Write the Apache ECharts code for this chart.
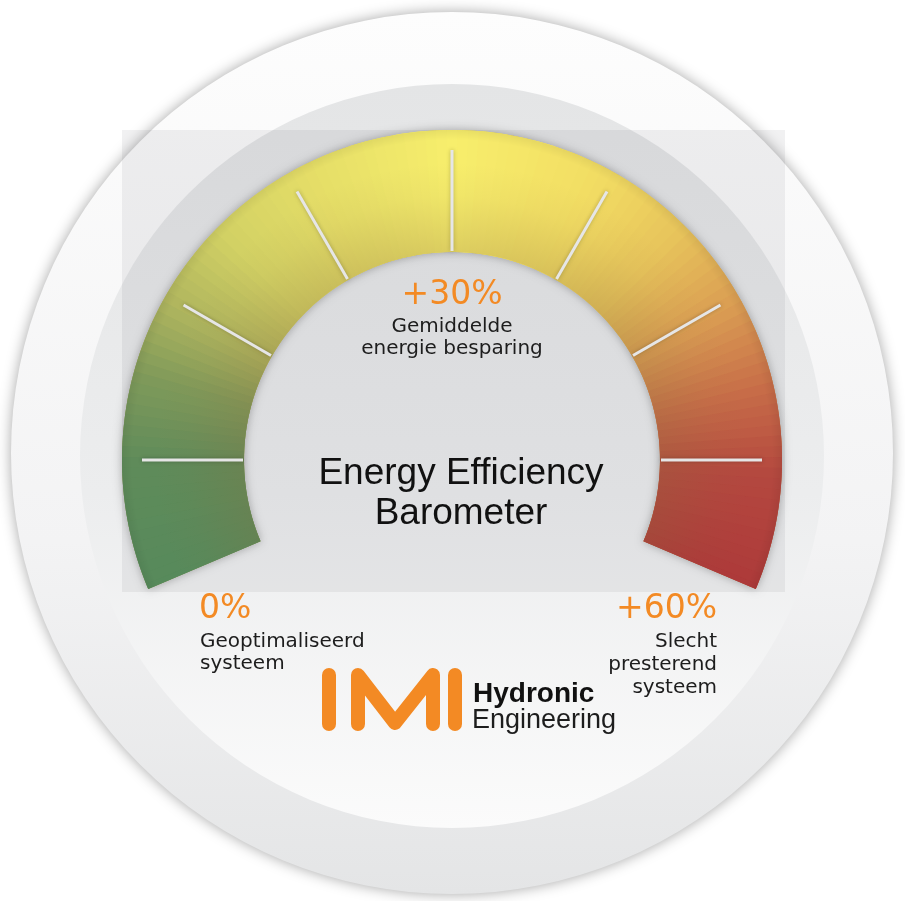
<!DOCTYPE html>
<html>
<head>
<meta charset="utf-8">
<script src="https://cdn.jsdelivr.net/npm/echarts@6/dist/echarts.min.js"></script>
<style>
  html, body { margin: 0; padding: 0; background: #ffffff; }
  #chart { width: 905px; height: 901px; }
</style>
</head>
<body>
<div id="chart"></div>
<script>
// scale of the barometer
const scaleMin = 0;
const scaleMax = 60;
const tickStep = 10;
const scaleLabels = ["0%", "+30%", "+60%"];
const scaleNotes = [
  ["Geoptimaliseerd", "systeem"],
  ["Gemiddelde", "energie besparing"],
  ["Slecht", "presterend", "systeem"],
];
const titleLines = ["Energy Efficiency", "Barometer"];
const brandWords = ["Hydronic", "Engineering"];

// colour along the band, from the green end to the red end
const bandStops = [
  [0.0, "#578a5b"],
  [0.1, "#5f8b5a"],
  [0.17, "#809a5a"],
  [0.23, "#afb55e"],
  [0.3, "#d2d164"],
  [0.38, "#e4dd67"],
  [0.5, "#f7ee6c"],
  [0.62, "#f2dd63"],
  [0.7, "#e7c35b"],
  [0.77, "#da9d53"],
  [0.84, "#c76d48"],
  [0.91, "#b4483f"],
  [1.0, "#ad3a3a"],
];

const orange = "#f38a24";
const cx = 452, cy = 460;

function hex(c) {
  return [1, 3, 5].map((i) => parseInt(c.slice(i, i + 2), 16));
}
function colorAt(f) {
  f = Math.max(0, Math.min(1, f));
  for (let i = 1; i < bandStops.length; i++) {
    const [f1, c1] = bandStops[i];
    const [f0, c0] = bandStops[i - 1];
    if (f <= f1) {
      const t = (f - f0) / (f1 - f0);
      const a = hex(c0), b = hex(c1);
      return `rgb(${a.map((v, k) => Math.round(v + (b[k] - v) * t)).join(",")})`;
    }
  }
  return bandStops[bandStops.length - 1][1];
}

// two layers of thin segments, the second shifted half a step so the seams vanish
const segCount = 120;
const segsA = [];
const segsB = [];
for (let i = 1; i <= segCount; i++) {
  segsA.push([i / segCount, colorAt((i - 0.5) / segCount)]);
  segsB.push([(i - 0.5) / segCount, colorAt((i - 1) / segCount)]);
}
segsB.push([1, colorAt(1)]);

const hidden = {
  splitLine: { show: false },
  axisTick: { show: false },
  axisLabel: { show: false },
  pointer: { show: false },
  anchor: { show: false },
  title: { show: false },
  detail: { show: false },
};

const band = (extra) =>
  Object.assign(
    {
      type: "gauge",
      center: [cx, cy],
      radius: 330,
      startAngle: 203,
      endAngle: -23,
      min: scaleMin,
      max: scaleMax,
      silent: true,
      data: [],
    },
    hidden,
    extra,
  );

const txt = (x, y, text, font, fill, align, z = 20) => ({
  type: "text",
  x,
  y,
  z,
  silent: true,
  style: { text, font, fill, align, verticalAlign: "middle" },
});

const noteFont = '20px "DejaVu Sans"';
const pctFont = '33px "DejaVu Sans"';
const ink = "#1d1d1d";

const graphics = [
  {
    type: "circle",
    z: -30,
    silent: true,
    shape: { cx: 452, cy: 453, r: 441 },
    style: {
      fill: new echarts.graphic.LinearGradient(0, 0, 0, 1, [
        { offset: 0, color: "#fdfdfd" },
        { offset: 0.6, color: "#f3f3f4" },
        { offset: 1, color: "#e4e5e6" },
      ]),
      shadowBlur: 14,
      shadowColor: "rgba(0,0,0,0.35)",
    },
  },
  {
    type: "circle",
    z: -29,
    silent: true,
    shape: { cx: 452, cy: 456, r: 372 },
    style: {
      fill: new echarts.graphic.LinearGradient(0, 0, 0, 1, [
        { offset: 0, color: "#e4e5e6" },
        { offset: 0.55, color: "#ecedee" },
        { offset: 1, color: "#fbfbfb" },
      ]),
    },
  },
  {
    type: "rect",
    z: -28,
    silent: true,
    shape: { x: 122, y: 130, width: 663, height: 462 },
    style: { fill: "rgba(60,62,66,0.07)" },
  },
  // labels at the ends and the top of the scale
  txt(452, 295, scaleLabels[1], pctFont, orange, "center"),
  txt(452, 327, scaleNotes[1][0], noteFont, ink, "center"),
  txt(452, 349, scaleNotes[1][1], noteFont, ink, "center"),
  txt(199, 609, scaleLabels[0], pctFont, orange, "left"),
  txt(200, 642, scaleNotes[0][0], noteFont, ink, "left"),
  txt(200, 664, scaleNotes[0][1], noteFont, ink, "left"),
  txt(717, 609, scaleLabels[2], pctFont, orange, "right"),
  txt(717, 642, scaleNotes[2][0], noteFont, ink, "right"),
  txt(717, 665, scaleNotes[2][1], noteFont, ink, "right"),
  txt(717, 688, scaleNotes[2][2], noteFont, ink, "right"),
  txt(461, 474, titleLines[0], '37px "Liberation Sans"', "#111111", "center"),
  txt(461, 514, titleLines[1], '37px "Liberation Sans"', "#111111", "center"),
  // IMI logo
  {
    type: "polyline",
    z: 20,
    silent: true,
    shape: { points: [[329, 675], [329, 724]] },
    style: { stroke: orange, lineWidth: 14, lineCap: "round", fill: null },
  },
  {
    type: "polyline",
    z: 20,
    silent: true,
    shape: { points: [[358, 724], [358, 675], [395, 723], [433, 675], [433, 724]] },
    style: { stroke: orange, lineWidth: 14, lineCap: "round", lineJoin: "round", fill: null },
  },
  {
    type: "polyline",
    z: 20,
    silent: true,
    shape: { points: [[455, 675], [455, 724]] },
    style: { stroke: orange, lineWidth: 14, lineCap: "round", fill: null },
  },
  txt(473, 694, brandWords[0], 'bold 28px "Liberation Sans"', "#111111", "left"),
  txt(472, 721, brandWords[1], '27px "Liberation Sans"', ink, "left"),
];

const chart = echarts.init(document.getElementById("chart"), null, { renderer: "canvas" });

chart.setOption({
  animation: false,
  backgroundColor: "#ffffff",
  graphic: graphics,
  series: [
    // solid base that carries the drop shadow
    band({
      axisLine: {
        lineStyle: { width: 122, color: [[1, "#c8b060"]], shadowBlur: 10, shadowColor: "rgba(0,0,0,0.3)" },
      },
    }),
    band({ axisLine: { lineStyle: { width: 122, color: segsA } } }),
    band({ axisLine: { lineStyle: { width: 122, color: segsB } } }),
    // shading towards the inner edge
    band({
      axisLine: {
        lineStyle: {
          width: 122,
          color: [
            [
              1,
              new echarts.graphic.RadialGradient(
                cx,
                cy,
                330,
                [
                  { offset: 0.6, color: "rgba(140,110,60,0.3)" },
                  { offset: 0.64, color: "rgba(140,110,60,0.24)" },
                  { offset: 0.8, color: "rgba(140,110,60,0.06)" },
                  { offset: 0.9, color: "rgba(140,110,60,0)" },
                  { offset: 0.97, color: "rgba(0,0,0,0)" },
                  { offset: 1, color: "rgba(0,0,0,0.06)" },
                ],
                true,
              ),
            ],
          ],
        },
      },
    }),
    // white tick marks
    Object.assign(
      {
        type: "gauge",
        center: [cx, cy],
        radius: 310,
        startAngle: 180,
        endAngle: 0,
        min: scaleMin,
        max: scaleMax,
        splitNumber: (scaleMax - scaleMin) / tickStep,
        silent: true,
        data: [],
      },
      hidden,
      {
        axisLine: { show: false, lineStyle: { width: 0 } },
        splitLine: {
          show: true,
          distance: 0,
          length: 101,
          lineStyle: { color: "#e6e6e6", width: 3, shadowBlur: 4, shadowColor: "rgba(0,0,0,0.25)" },
        },
      },
    ),
  ],
});
</script>
</body>
</html>
